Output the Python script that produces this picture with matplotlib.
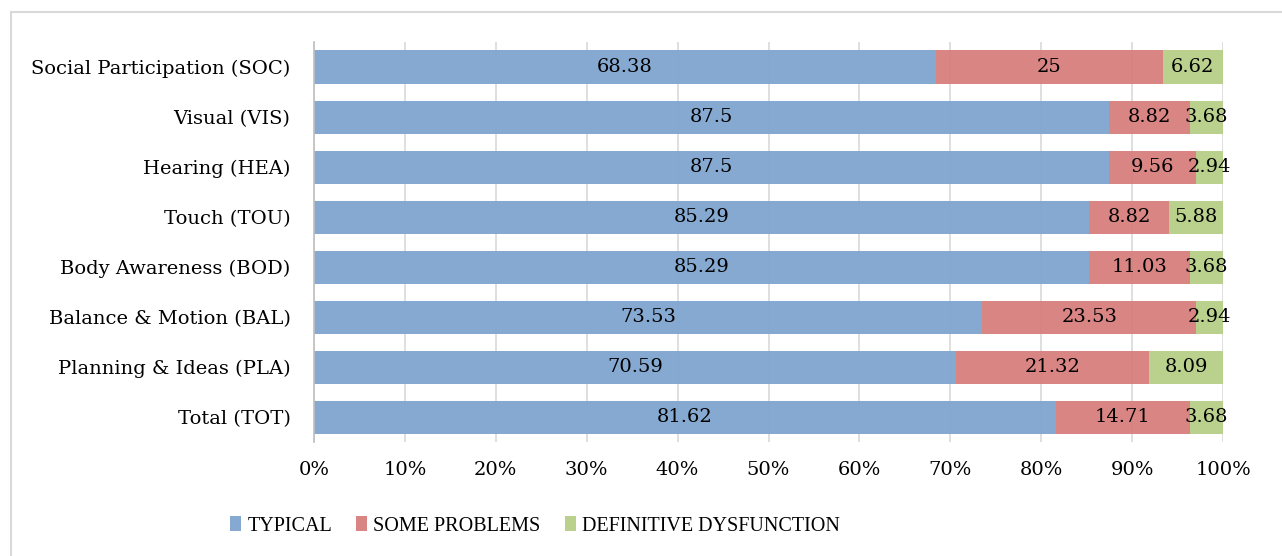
import numpy as np
import matplotlib.pyplot as plt
from matplotlib.patches import Rectangle

# ---------------------- data ----------------------
categories = ['Social Participation (SOC)', 'Visual (VIS)', 'Hearing (HEA)', 'Touch (TOU)',
              'Body Awareness (BOD)', 'Balance & Motion (BAL)', 'Planning & Ideas (PLA)', 'Total (TOT)']
typical = [68.38, 87.5, 87.5, 85.29, 85.29, 73.53, 70.59, 81.62]
some_problems = [25, 8.82, 9.56, 8.82, 11.03, 23.53, 21.32, 14.71]
dysfunction = [6.62, 3.68, 2.94, 5.88, 3.68, 2.94, 8.09, 3.68]
series_names = ['TYPICAL', 'SOME PROBLEMS', 'DEFINITIVE DYSFUNCTION']
colors = ['#7fa5cf', '#d67f7d', '#b7cf88']

plt.rcParams['font.family'] = ['DejaVu Serif']

fig = plt.figure(figsize=(12.82, 5.56), dpi=100)
ax = fig.add_axes([314 / 1282, 1 - 442 / 556, (1223 - 314) / 1282, 400 / 556])

# outer border (runs off the right and bottom edge like the original)
fig.patches.append(Rectangle((11 / 1282, -0.05), 1.0, 1.05 - 12 / 556, transform=fig.transFigure,
                             fill=False, edgecolor='#d9d9d9', linewidth=1.5))

y = np.arange(len(categories))[::-1]
left = np.zeros(len(categories))
for vals, name, c in zip([typical, some_problems, dysfunction], series_names, colors):
    vals = np.array(vals)
    ax.barh(y, vals, left=left, height=0.66, color=c, label=name, zorder=2, alpha=0.95)
    for yi, l, v in zip(y, left, vals):
        ax.text(l + v / 2, yi, f'{v:g}', ha='center', va='center', fontsize=14, color='black', zorder=4)
    left += vals

ax.set_xlim(0, 100)
ax.set_ylim(-0.5, 7.5)
ax.set_xticks(np.arange(0, 101, 10))
ax.set_xticklabels([f'{t}%' for t in range(0, 101, 10)], fontsize=14)
ax.set_yticks(y)
ax.set_yticklabels(categories, fontsize=14)
ax.grid(axis='x', color='#d9d9d9', linewidth=1.2, zorder=1)
ax.set_axisbelow(True)
for s in ['top', 'right', 'bottom']:
    ax.spines[s].set_visible(False)
ax.spines['left'].set_color('#bfbfbf')
ax.spines['left'].set_linewidth(1.2)
ax.tick_params(axis='y', length=0, pad=17)
ax.tick_params(axis='x', length=0, pad=14)

ax.legend(loc='center', bbox_to_anchor=(535 / 1282, 1 - 526 / 556), bbox_transform=fig.transFigure,
          ncol=3, frameon=False, handlelength=0.55, handleheight=0.75,
          handletextpad=0.3, columnspacing=1.2,
          prop={'family': 'Liberation Serif', 'size': 14.5})

fig.savefig('out.png', dpi=100)
